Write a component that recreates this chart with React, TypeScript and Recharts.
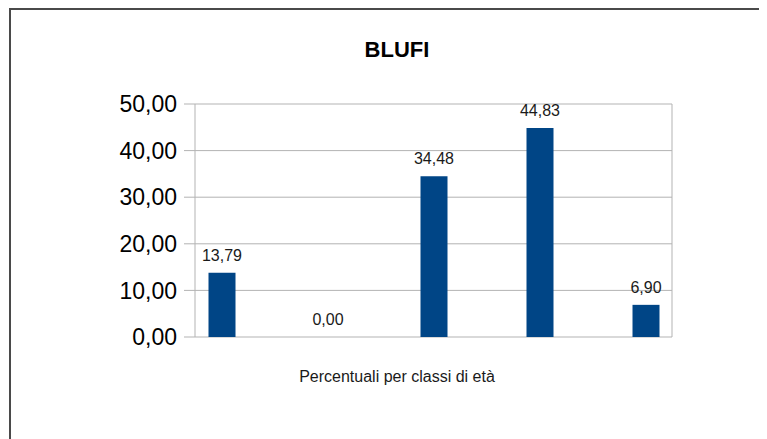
import React from "react"
import { BarChart, Bar, XAxis, YAxis, CartesianGrid, LabelList, ReferenceLine } from "recharts"

const chartTitle = "BLUFI"
const axisTitle = "Percentuali per classi di età"
const classPositions = [0, 1, 2, 3, 4]
const percentages = [13.79, 0, 34.48, 44.83, 6.9]
const yTicks = [0, 10, 20, 30, 40, 50]

const data = classPositions.map((x, i) => ({ x, value: percentages[i] }))

const fmt = (v: number) => v.toFixed(2).replace(".", ",")
const font = '"Liberation Sans", Arial, sans-serif'
const gridColor = "#b3b3b3"

export default function App() {
  return (
    <div style={{ position: "relative", width: 759, height: 431, overflow: "hidden", fontFamily: font }}>
      <div
        style={{
          position: "absolute",
          left: 1,
          top: 0,
          width: 820,
          height: 520,
          border: "2px solid #4a4a4a",
          boxSizing: "border-box",
        }}
      />
      <BarChart
        width={759}
        height={431}
        data={data}
        margin={{ top: 96, right: 95, bottom: 102, left: 0 }}
        style={{ position: "absolute", left: 0, top: 0 }}
      >
        <CartesianGrid vertical={false} stroke={gridColor} />
        <XAxis
          type="number"
          dataKey="x"
          domain={[-0.25, 4.25]}
          ticks={classPositions}
          tick={false}
          tickLine={false}
          axisLine={{ stroke: gridColor }}
          height={0}
        />
        <YAxis
          domain={[0, 50]}
          ticks={yTicks}
          width={187}
          tickSize={11}
          tickMargin={7}
          tickFormatter={fmt}
          axisLine={{ stroke: gridColor }}
          tickLine={{ stroke: gridColor }}
          tick={{ fill: "#000", fontSize: 23, fontFamily: font }}
        />
        <ReferenceLine x={4.25} stroke={gridColor} />
        <Bar dataKey="value" fill="#004586" barSize={27} minPointSize={0.01} isAnimationActive={false}>
          <LabelList
            dataKey="value"
            position="top"
            offset={12}
            formatter={(v: any) => fmt(Number(v))}
            style={{ fill: "#1a1a1a", fontSize: 16, fontFamily: font }}
          />
        </Bar>
      </BarChart>
      <svg width={759} height={431} style={{ position: "absolute", left: 0, top: 0, pointerEvents: "none" }}>
        <text x={389} y={49} textAnchor="middle" fontFamily={font} fontSize={22} fontWeight="bold" fill="#000">
          {chartTitle}
        </text>
        <text x={389} y={374} textAnchor="middle" fontFamily={font} fontSize={16} fill="#1a1a1a">
          {axisTitle}
        </text>
      </svg>
    </div>
  )
}
